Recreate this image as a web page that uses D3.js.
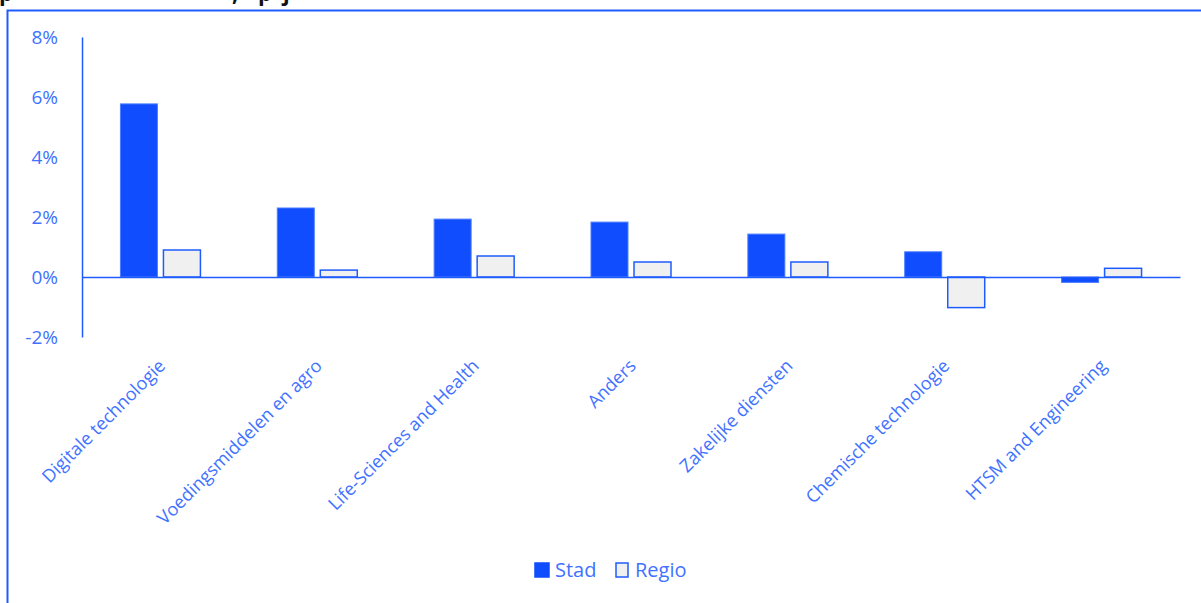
<!DOCTYPE html>
<html>
<head>
<meta charset="utf-8">
<script src="https://cdn.jsdelivr.net/npm/d3@7/dist/d3.min.js"></script>
<style>
  html, body { margin: 0; padding: 0; background: #fff; }
  svg { display: block; }
  text { font-family: "Open Sans", "DejaVu Sans", sans-serif; }
</style>
</head>
<body>
<svg id="chart" width="1201" height="603"></svg>
<script>
// Sectors on the x axis
const categories = [
  "Digitale technologie",
  "Voedingsmiddelen en agro",
  "Life-Sciences and Health",
  "Anders",
  "Zakelijke diensten",
  "Chemische technologie",
  "HTSM and Engineering"
];
// Growth per sector (fraction)
const stad  = [0.0577, 0.0230, 0.0193, 0.0183, 0.0143, 0.0084, -0.0018];
const regio = [0.0090, 0.0023, 0.0070, 0.0050, 0.0050, -0.0102, 0.0029];
const seriesNames = ["Stad", "Regio"];
const yTicks = [-0.02, 0, 0.02, 0.04, 0.06, 0.08];

const blue = "#0f4dff";
const textBlue = "#3f72ff";
const lineBlue = "#1f5cff";
const regioFill = "#f0f0f0";

const svg = d3.select("#chart");

// Heading text above the frame (only its lower part is visible)
const head = svg.append("g").attr("font-weight", "bold").attr("font-size", 22).attr("fill", "#111");
head.append("text").attr("x", -1).attr("y", 1).text("p");
head.append("text").attr("x", 232).attr("y", 1).text(",");
head.append("text").attr("x", 258).attr("y", 1).text("p");
head.append("text").attr("x", 283).attr("y", 1).text("j");

// Chart frame
svg.append("rect")
  .attr("x", 7.5).attr("y", 10.5)
  .attr("width", 1210).attr("height", 620)
  .attr("fill", "#fff")
  .attr("stroke", lineBlue).attr("stroke-width", 2);

const x0 = d3.scaleBand().domain(categories).range([82, 1180]).paddingInner(0.49).paddingOuter(0.245);
const x1 = d3.scaleBand().domain(seriesNames).range([0, x0.bandwidth()]).paddingInner(0.14);
const y = d3.scaleLinear().domain([-0.02, 0.08]).range([337, 37]);

// Y axis
const yAxis = d3.axisLeft(y).tickValues(yTicks).tickSize(0).tickPadding(24)
  .tickFormat(d3.format(".0%"));
const gy = svg.append("g").attr("transform", "translate(82,0)").call(yAxis);
gy.select(".domain").attr("stroke", lineBlue).attr("stroke-width", 1.5);
gy.selectAll(".tick text")
  .attr("fill", textBlue).attr("font-size", 19)
  .text(d => d3.format(".0%")(d).replace("−", "-"));

// Bars
const groups = svg.append("g").selectAll("g")
  .data(categories)
  .join("g")
  .attr("transform", d => `translate(${x0(d)},0)`);

groups.append("rect")
  .attr("x", x1("Stad"))
  .attr("width", x1.bandwidth())
  .attr("y", (d, i) => y(Math.max(0, stad[i])))
  .attr("height", (d, i) => Math.abs(y(stad[i]) - y(0)))
  .attr("fill", blue)
  .attr("stroke", "#4a7dff").attr("stroke-width", 1);

groups.append("rect")
  .attr("x", x1("Regio"))
  .attr("width", x1.bandwidth())
  .attr("y", (d, i) => y(Math.max(0, regio[i])))
  .attr("height", (d, i) => Math.abs(y(regio[i]) - y(0)))
  .attr("fill", regioFill)
  .attr("stroke", lineBlue).attr("stroke-width", 1.5);

// X axis at zero
const xAxis = d3.axisBottom(x0).tickSize(0).tickSizeOuter(0).tickPadding(0);
const gx = svg.append("g").attr("transform", `translate(0,${y(0)})`).call(xAxis);
gx.select(".domain").attr("stroke", lineBlue).attr("stroke-width", 1.5);
gx.selectAll(".tick text")
  .attr("fill", textBlue).attr("font-size", 18)
  .attr("text-anchor", "end")
  .attr("dy", 0)
  .attr("transform", function () {
    return `translate(6,${337 - y(0) + 30}) rotate(-45)`;
  })
  .attr("y", 0);

// Legend
const legend = svg.append("g").attr("transform", "translate(535,570)");
const items = [
  { name: seriesNames[0], fill: blue, stroke: blue, x: 0 },
  { name: seriesNames[1], fill: regioFill, stroke: lineBlue, x: 80 }
];
const li = legend.selectAll("g").data(items).join("g")
  .attr("transform", d => `translate(${d.x},0)`);
li.append("rect")
  .attr("x", d => d.name === "Stad" ? 0 : 1).attr("y", -7)
  .attr("width", d => d.name === "Stad" ? 14 : 12).attr("height", 14)
  .attr("fill", d => d.fill).attr("stroke", d => d.stroke).attr("stroke-width", 1.5);
li.append("text")
  .attr("x", 20).attr("y", 0).attr("dy", "0.35em")
  .attr("fill", textBlue).attr("font-size", 20)
  .text(d => d.name);
</script>
</body>
</html>
